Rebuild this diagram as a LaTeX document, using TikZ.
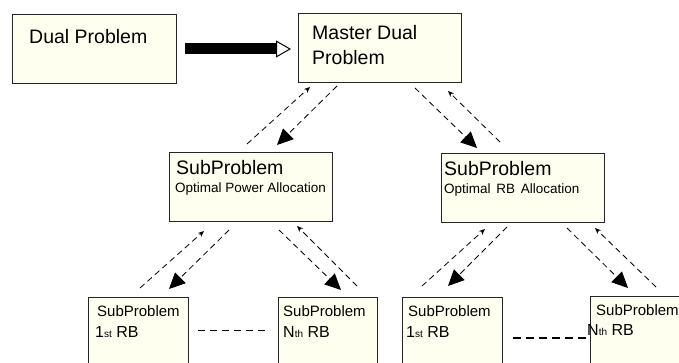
\documentclass[tikz,border=0pt]{standalone}
\usepackage{fontspec}
\setmainfont{Liberation Sans}
\usetikzlibrary{arrows.meta}
\definecolor{cream}{RGB}{255,255,240}
\begin{document}
\begin{tikzpicture}[x=1pt,y=-1pt,
  box/.style={draw=black!85, line width=1pt, fill=cream, rectangle, inner sep=0pt, anchor=north west},
  lbl/.style={anchor=base west, inner sep=0pt},
  big/.style={font=\fontsize{19.5}{20}\selectfont},
  mid/.style={font=\fontsize{13.5}{14}\selectfont},
  small/.style={font=\fontsize{15}{16}\selectfont},
  rbtxt/.style={font=\fontsize{16}{17}\selectfont},
  dlink/.style={line width=0.8pt, dash pattern=on 6pt off 4pt},
  downarr/.style={dlink, -{Triangle[length=16pt,width=15pt]}},
  uparr/.style={dlink, -{Stealth[length=6pt,width=5pt]}},
  sep/.style={line width=0.8pt, dash pattern=on 7pt off 5pt}
]
\useasboundingbox (0,0) rectangle (679,363);

% boxes
\node[box, minimum width=164pt, minimum height=69pt] (dual) at (12,14) {};
\node[box, minimum width=163pt, minimum height=69pt] (master) at (298,13) {};
\node[box, minimum width=163pt, minimum height=69pt] (spA) at (169,152) {};
\node[box, minimum width=163pt, minimum height=69pt] (spB) at (441,153) {};
\node[box, minimum width=100pt, minimum height=80pt] (b1) at (88,297) {};
\node[box, minimum width=99pt, minimum height=80pt] (b2) at (278,297) {};
\node[box, minimum width=100pt, minimum height=80pt] (b3) at (402,297) {};
\node[box, minimum width=100pt, minimum height=80pt] (b4) at (590,296) {};

% labels
\node[lbl, big] (tdual) at (29,44) {Dual Problem};
\node[lbl, big] (tm1) at (312,40) {Master Dual};
\node[lbl, big] (tm2) at (312,65) {Problem};
\node[lbl, big] (tA1) at (176,175) {SubProblem};
\node[lbl, mid] (tA2) at (175,193) {Optimal Power Allocation};
\node[lbl, big] (tB1) at (444,176) {SubProblem};
\node[lbl, mid] (tB2) at (444,194) {Optimal\hspace{2pt} RB\hspace{2pt} Allocation};
\node[lbl, small] (t11) at (97,316) {SubProblem};
\node[lbl, rbtxt] (t12) at (95,337) {1{\fontsize{10}{10}\selectfont st} RB};
\node[lbl, small] (t21) at (283,316) {SubProblem};
\node[lbl, rbtxt] (t22) at (283,337) {N{\fontsize{10}{10}\selectfont th} RB};
\node[lbl, small] (t31) at (408,316) {SubProblem};
\node[lbl, rbtxt] (t32) at (406,337) {1{\fontsize{10}{10}\selectfont st} RB};
\node[lbl, small] (t41) at (596,315) {SubProblem};
\node[lbl, rbtxt] (t42) at (587,335) {N{\fontsize{10}{10}\selectfont th} RB};

% thick arrow
\draw[line width=11pt, -{Triangle[open, fill=white, length=15pt, width=17pt, line width=1pt]}, shorten <=8pt, shorten >=7pt]
  (dual.east) -- (dual.east -| master.west);

% master <-> sub problems
\draw[uparr] ([shift={(78,-8)}]spA.north west) -- ([shift={(12,4)}]master.south west);
\draw[downarr] ([shift={(39,3)}]master.south west) -- ([shift={(108,-7)}]spA.north west);
\draw[downarr] ([shift={(117,5)}]master.south west) -- ([shift={(36,-5)}]spB.north west);
\draw[uparr] ([shift={(59,-11)}]spB.north west) -- ([shift={(150,8)}]master.south west);

% sub A <-> b1, b2
\draw[uparr] ([shift={(52,-9)}]b1.north west) -- ([shift={(35,9)}]spA.south west);
\draw[downarr] ([shift={(60,8)}]spA.south west) -- ([shift={(81,-8)}]b1.north west);
\draw[downarr] ([shift={(110,8)}]spA.south west) -- ([shift={(63,-7)}]b2.north west);
\draw[uparr] ([shift={(79,-11)}]b2.north west) -- ([shift={(128,4)}]spA.south west);

% sub B <-> b3, b4
\draw[uparr] ([shift={(20,-11)}]b3.north west) -- ([shift={(44,6)}]spB.south west);
\draw[downarr] ([shift={(66,4)}]spB.south west) -- ([shift={(46,-11)}]b3.north west);
\draw[downarr] ([shift={(126,5)}]spB.south west) -- ([shift={(38,-8)}]b4.north west);
\draw[uparr] ([shift={(66,-9)}]b4.north west) -- ([shift={(154,5)}]spB.south west);

% separators
\draw[sep] ([shift={(9,33)}]b1.north east) -- ([shift={(-8,33)}]b2.north west);
\draw[sep, line width=1.8pt, dash pattern=on 8pt off 5pt] ([shift={(10,41)}]b3.north east) -- ([shift={(-3,42)}]b4.north west);
\end{tikzpicture}
\end{document}
